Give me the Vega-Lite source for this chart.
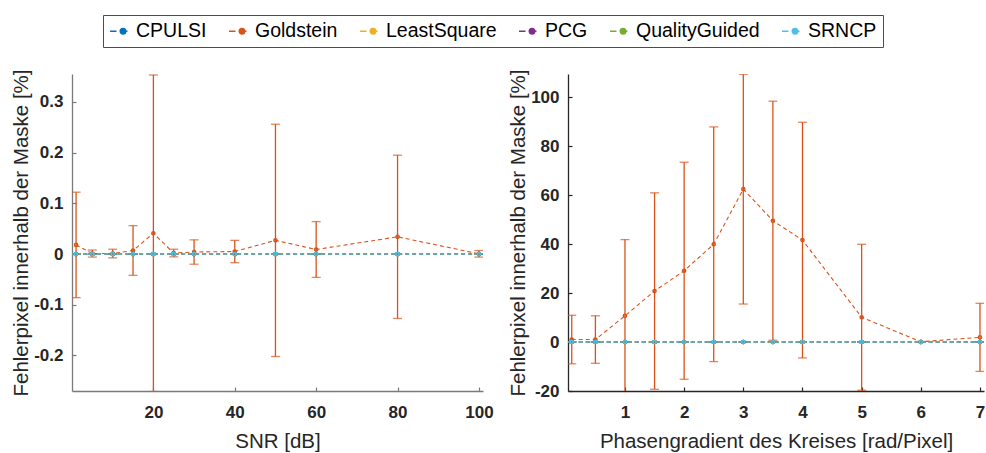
{
  "$schema": "https://vega.github.io/schema/vega-lite/v6.json",
  "padding": {"left": 11, "top": 14, "right": 3, "bottom": 2},
  "datasets": {
    "snr": [
      {"m": "CPULSI", "x": 1, "y": 0, "e": 0},
      {"m": "CPULSI", "x": 5, "y": 0, "e": 0},
      {"m": "CPULSI", "x": 10, "y": 0, "e": 0},
      {"m": "CPULSI", "x": 15, "y": 0, "e": 0},
      {"m": "CPULSI", "x": 20, "y": 0, "e": 0},
      {"m": "CPULSI", "x": 25, "y": 0, "e": 0},
      {"m": "CPULSI", "x": 30, "y": 0, "e": 0},
      {"m": "CPULSI", "x": 40, "y": 0, "e": 0},
      {"m": "CPULSI", "x": 50, "y": 0, "e": 0},
      {"m": "CPULSI", "x": 60, "y": 0, "e": 0},
      {"m": "CPULSI", "x": 80, "y": 0, "e": 0},
      {"m": "CPULSI", "x": 100, "y": 0, "e": 0},
      {"m": "Goldstein", "x": 1, "y": 0.018, "e": 0.104},
      {"m": "Goldstein", "x": 5, "y": 0.001, "e": 0.007},
      {"m": "Goldstein", "x": 10, "y": 0.001, "e": 0.0085},
      {"m": "Goldstein", "x": 15, "y": 0.007, "e": 0.049},
      {"m": "Goldstein", "x": 20, "y": 0.041, "e": 0.312},
      {"m": "Goldstein", "x": 25, "y": 0.002, "e": 0.0075},
      {"m": "Goldstein", "x": 30, "y": 0.004, "e": 0.024},
      {"m": "Goldstein", "x": 40, "y": 0.005, "e": 0.022},
      {"m": "Goldstein", "x": 50, "y": 0.027, "e": 0.229},
      {"m": "Goldstein", "x": 60, "y": 0.009, "e": 0.055},
      {"m": "Goldstein", "x": 80, "y": 0.034, "e": 0.161},
      {"m": "Goldstein", "x": 100, "y": 0.0005, "e": 0.0065},
      {"m": "LeastSquare", "x": 1, "y": 0, "e": 0},
      {"m": "LeastSquare", "x": 5, "y": 0, "e": 0},
      {"m": "LeastSquare", "x": 10, "y": 0, "e": 0},
      {"m": "LeastSquare", "x": 15, "y": 0, "e": 0},
      {"m": "LeastSquare", "x": 20, "y": 0, "e": 0},
      {"m": "LeastSquare", "x": 25, "y": 0, "e": 0},
      {"m": "LeastSquare", "x": 30, "y": 0, "e": 0},
      {"m": "LeastSquare", "x": 40, "y": 0, "e": 0},
      {"m": "LeastSquare", "x": 50, "y": 0, "e": 0},
      {"m": "LeastSquare", "x": 60, "y": 0, "e": 0},
      {"m": "LeastSquare", "x": 80, "y": 0, "e": 0},
      {"m": "LeastSquare", "x": 100, "y": 0, "e": 0},
      {"m": "PCG", "x": 1, "y": 0, "e": 0},
      {"m": "PCG", "x": 5, "y": 0, "e": 0},
      {"m": "PCG", "x": 10, "y": 0, "e": 0},
      {"m": "PCG", "x": 15, "y": 0, "e": 0},
      {"m": "PCG", "x": 20, "y": 0, "e": 0},
      {"m": "PCG", "x": 25, "y": 0, "e": 0},
      {"m": "PCG", "x": 30, "y": 0, "e": 0},
      {"m": "PCG", "x": 40, "y": 0, "e": 0},
      {"m": "PCG", "x": 50, "y": 0, "e": 0},
      {"m": "PCG", "x": 60, "y": 0, "e": 0},
      {"m": "PCG", "x": 80, "y": 0, "e": 0},
      {"m": "PCG", "x": 100, "y": 0, "e": 0},
      {"m": "QualityGuided", "x": 1, "y": 0, "e": 0},
      {"m": "QualityGuided", "x": 5, "y": 0, "e": 0},
      {"m": "QualityGuided", "x": 10, "y": 0, "e": 0},
      {"m": "QualityGuided", "x": 15, "y": 0, "e": 0},
      {"m": "QualityGuided", "x": 20, "y": 0, "e": 0},
      {"m": "QualityGuided", "x": 25, "y": 0, "e": 0},
      {"m": "QualityGuided", "x": 30, "y": 0, "e": 0},
      {"m": "QualityGuided", "x": 40, "y": 0, "e": 0},
      {"m": "QualityGuided", "x": 50, "y": 0, "e": 0},
      {"m": "QualityGuided", "x": 60, "y": 0, "e": 0},
      {"m": "QualityGuided", "x": 80, "y": 0, "e": 0},
      {"m": "QualityGuided", "x": 100, "y": 0, "e": 0},
      {"m": "SRNCP", "x": 1, "y": 0, "e": 0},
      {"m": "SRNCP", "x": 5, "y": 0, "e": 0},
      {"m": "SRNCP", "x": 10, "y": 0, "e": 0},
      {"m": "SRNCP", "x": 15, "y": 0, "e": 0},
      {"m": "SRNCP", "x": 20, "y": 0, "e": 0},
      {"m": "SRNCP", "x": 25, "y": 0, "e": 0},
      {"m": "SRNCP", "x": 30, "y": 0, "e": 0},
      {"m": "SRNCP", "x": 40, "y": 0, "e": 0},
      {"m": "SRNCP", "x": 50, "y": 0, "e": 0},
      {"m": "SRNCP", "x": 60, "y": 0, "e": 0},
      {"m": "SRNCP", "x": 80, "y": 0, "e": 0},
      {"m": "SRNCP", "x": 100, "y": 0, "e": 0}
    ],
    "grad": [
      {"m": "CPULSI", "x": 0.1, "y": 0, "e": 0},
      {"m": "CPULSI", "x": 0.5, "y": 0, "e": 0},
      {"m": "CPULSI", "x": 1, "y": 0, "e": 0},
      {"m": "CPULSI", "x": 1.5, "y": 0, "e": 0},
      {"m": "CPULSI", "x": 2, "y": 0, "e": 0},
      {"m": "CPULSI", "x": 2.5, "y": 0, "e": 0},
      {"m": "CPULSI", "x": 3, "y": 0, "e": 0},
      {"m": "CPULSI", "x": 3.5, "y": 0, "e": 0},
      {"m": "CPULSI", "x": 4, "y": 0, "e": 0},
      {"m": "CPULSI", "x": 5, "y": 0, "e": 0},
      {"m": "CPULSI", "x": 6, "y": 0, "e": 0},
      {"m": "CPULSI", "x": 7, "y": 0, "e": 0},
      {"m": "Goldstein", "x": 0.1, "y": 1.0, "e": 9.9},
      {"m": "Goldstein", "x": 0.5, "y": 1.0, "e": 9.7},
      {"m": "Goldstein", "x": 1, "y": 10.7, "e": 31.1},
      {"m": "Goldstein", "x": 1.5, "y": 20.8, "e": 40.1},
      {"m": "Goldstein", "x": 2, "y": 29.1, "e": 44.3},
      {"m": "Goldstein", "x": 2.5, "y": 39.9, "e": 47.9},
      {"m": "Goldstein", "x": 3, "y": 62.4, "e": 46.9},
      {"m": "Goldstein", "x": 3.5, "y": 49.5, "e": 48.8},
      {"m": "Goldstein", "x": 4, "y": 41.6, "e": 48.1},
      {"m": "Goldstein", "x": 5, "y": 10.1, "e": 29.8},
      {"m": "Goldstein", "x": 6, "y": 0.1, "e": 0.1},
      {"m": "Goldstein", "x": 7, "y": 1.9, "e": 13.9},
      {"m": "LeastSquare", "x": 0.1, "y": 0, "e": 0},
      {"m": "LeastSquare", "x": 0.5, "y": 0, "e": 0},
      {"m": "LeastSquare", "x": 1, "y": 0, "e": 0},
      {"m": "LeastSquare", "x": 1.5, "y": 0, "e": 0},
      {"m": "LeastSquare", "x": 2, "y": 0, "e": 0},
      {"m": "LeastSquare", "x": 2.5, "y": 0, "e": 0},
      {"m": "LeastSquare", "x": 3, "y": 0, "e": 0},
      {"m": "LeastSquare", "x": 3.5, "y": 0, "e": 0},
      {"m": "LeastSquare", "x": 4, "y": 0, "e": 0},
      {"m": "LeastSquare", "x": 5, "y": 0, "e": 0},
      {"m": "LeastSquare", "x": 6, "y": 0, "e": 0},
      {"m": "LeastSquare", "x": 7, "y": 0, "e": 0},
      {"m": "PCG", "x": 0.1, "y": 0, "e": 0},
      {"m": "PCG", "x": 0.5, "y": 0, "e": 0},
      {"m": "PCG", "x": 1, "y": 0, "e": 0},
      {"m": "PCG", "x": 1.5, "y": 0, "e": 0},
      {"m": "PCG", "x": 2, "y": 0, "e": 0},
      {"m": "PCG", "x": 2.5, "y": 0, "e": 0},
      {"m": "PCG", "x": 3, "y": 0, "e": 0},
      {"m": "PCG", "x": 3.5, "y": 0, "e": 0},
      {"m": "PCG", "x": 4, "y": 0, "e": 0},
      {"m": "PCG", "x": 5, "y": 0, "e": 0},
      {"m": "PCG", "x": 6, "y": 0, "e": 0},
      {"m": "PCG", "x": 7, "y": 0, "e": 0},
      {"m": "QualityGuided", "x": 0.1, "y": 0, "e": 0},
      {"m": "QualityGuided", "x": 0.5, "y": 0, "e": 0},
      {"m": "QualityGuided", "x": 1, "y": 0, "e": 0},
      {"m": "QualityGuided", "x": 1.5, "y": 0, "e": 0},
      {"m": "QualityGuided", "x": 2, "y": 0, "e": 0},
      {"m": "QualityGuided", "x": 2.5, "y": 0, "e": 0},
      {"m": "QualityGuided", "x": 3, "y": 0, "e": 0},
      {"m": "QualityGuided", "x": 3.5, "y": 0, "e": 0},
      {"m": "QualityGuided", "x": 4, "y": 0, "e": 0},
      {"m": "QualityGuided", "x": 5, "y": 0, "e": 0},
      {"m": "QualityGuided", "x": 6, "y": 0, "e": 0},
      {"m": "QualityGuided", "x": 7, "y": 0, "e": 0},
      {"m": "SRNCP", "x": 0.1, "y": 0, "e": 0},
      {"m": "SRNCP", "x": 0.5, "y": 0, "e": 0},
      {"m": "SRNCP", "x": 1, "y": 0, "e": 0},
      {"m": "SRNCP", "x": 1.5, "y": 0, "e": 0},
      {"m": "SRNCP", "x": 2, "y": 0, "e": 0},
      {"m": "SRNCP", "x": 2.5, "y": 0, "e": 0},
      {"m": "SRNCP", "x": 3, "y": 0, "e": 0},
      {"m": "SRNCP", "x": 3.5, "y": 0, "e": 0},
      {"m": "SRNCP", "x": 4, "y": 0, "e": 0},
      {"m": "SRNCP", "x": 5, "y": 0, "e": 0},
      {"m": "SRNCP", "x": 6, "y": 0, "e": 0},
      {"m": "SRNCP", "x": 7, "y": 0, "e": 0}
    ]
  },
  "hconcat": [
    {
      "width": 411,
      "height": 317,
      "data": {"name": "snr"},
      "encoding": {
        "x": {"field": "x", "type": "quantitative", "title": "SNR [dB]",
          "scale": {"domain": [0, 101], "nice": false, "zero": false},
          "axis": {"values": [20, 40, 60, 80, 100], "domainColor": "#7a7a7a", "tickColor": "#7a7a7a"}},
        "color": {"field": "m", "type": "nominal", "title": null,
          "legend": {"symbolDash": [50, 0], "symbolFillColor": "#ffffff", "encode": {"symbols": {"update": {"fill": {"value": "#ffffff"}, "strokeDash": {"value": [50, 0]}}}}}}
      },
      "layer": [
        {
          "mark": {"type": "errorbar", "clip": true, "thickness": 1.3, "ticks": {"size": 9, "thickness": 1.3}},
          "encoding": {
            "y": {"field": "y", "type": "quantitative", "title": "Fehlerpixel innerhalb der Maske [%]",
              "scale": {"domain": [-0.27, 0.355], "nice": false, "zero": false},
              "axis": {"values": [-0.2, -0.1, 0, 0.1, 0.2, 0.3], "format": "~g", "labelExpr": "replace(datum.label, '−', '-')", "domainColor": "#7a7a7a", "tickColor": "#7a7a7a"}},
            "yError": {"field": "e"}
          }
        },
        {
          "mark": {"type": "line", "clip": true, "strokeWidth": 1.1, "strokeDash": [4, 3],
            "point": {"filled": false, "size": 10, "strokeWidth": 1.5}},
          "encoding": {"y": {"field": "y", "type": "quantitative"}}
        }
      ]
    },
    {
      "width": 416,
      "height": 317,
      "data": {"name": "grad"},
      "encoding": {
        "x": {"field": "x", "type": "quantitative", "title": "Phasengradient des Kreises [rad/Pixel]",
          "scale": {"domain": [0.037, 7.068], "nice": false, "zero": false},
          "axis": {"values": [1, 2, 3, 4, 5, 6, 7]}},
        "color": {"field": "m", "type": "nominal", "title": null,
          "legend": {"symbolDash": [50, 0], "symbolFillColor": "#ffffff", "encode": {"symbols": {"update": {"fill": {"value": "#ffffff"}, "strokeDash": {"value": [50, 0]}}}}}}
      },
      "layer": [
        {
          "mark": {"type": "errorbar", "clip": true, "thickness": 1.3, "ticks": {"size": 9, "thickness": 1.3}},
          "encoding": {
            "y": {"field": "y", "type": "quantitative", "title": "Fehlerpixel innerhalb der Maske [%]",
              "scale": {"domain": [-20, 109.4], "nice": false, "zero": false},
              "axis": {"values": [-20, 0, 20, 40, 60, 80, 100], "labelExpr": "replace(datum.label, '−', '-')"}},
            "yError": {"field": "e"}
          }
        },
        {
          "mark": {"type": "line", "clip": true, "strokeWidth": 1.1, "strokeDash": [4, 3],
            "point": {"filled": false, "size": 10, "strokeWidth": 1.5}},
          "encoding": {"y": {"field": "y", "type": "quantitative"}}
        }
      ]
    }
  ],
  "spacing": 14,
  "resolve": {"scale": {"color": "shared", "x": "independent", "y": "independent"}},
  "config": {
    "font": "Liberation Sans",
    "view": {"stroke": null},
    "range": {"category": ["#0072BD", "#D95319", "#EDB120", "#7E2F8E", "#77AC30", "#4DBEEE"]},
    "axis": {
      "grid": false,
      "labelFont": "Liberation Sans",
      "labelFontSize": 17,
      "labelFontWeight": "bold",
      "labelColor": "#262626",
      "titleFont": "Liberation Sans",
      "titleFontSize": 20.5,
      "titleFontWeight": "normal",
      "titleColor": "#262626",
      "domainColor": "#262626",
      "tickColor": "#262626",
      "domainWidth": 1.3,
      "tickSize": -4,
      "tickWidth": 1.2,
      "labelPadding": 13,
      "titlePadding": 2,
      "labelFlush": false
    },
    "axisX": {"labelPadding": 17, "titlePadding": 11},
    "legend": {
      "orient": "none",
      "legendX": 31,
      "legendY": -59,
      "direction": "horizontal",
      "columns": 6,
      "labelFont": "Liberation Sans",
      "labelFontSize": 19.5,
      "labelColor": "#000000",
      "symbolType": "M-1,0H-0.278M0.75,0A0.306,0.306 0 1 1 0.138,0A0.306,0.306 0 1 1 0.75,0M0.75,0H0.944",
      "symbolSize": 324,
      "symbolStrokeWidth": 1.5,
      "strokeColor": "#4d4d4d",
      "strokeWidth": 1,
      "fillColor": "#ffffff",
      "padding": 6,
      "columnPadding": 19,
      "labelOffset": 7
    }
  }
}
